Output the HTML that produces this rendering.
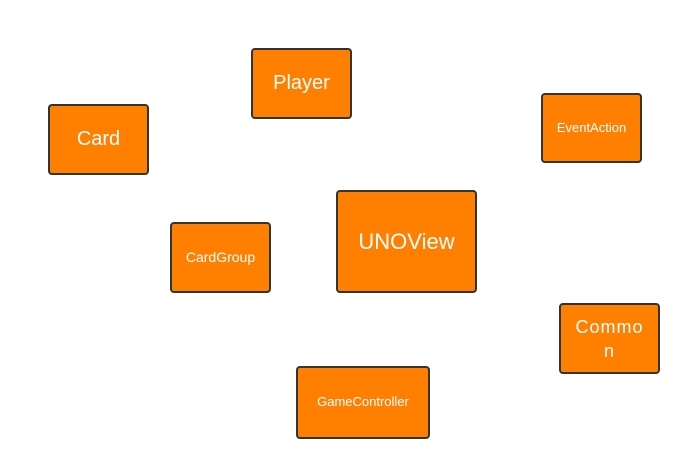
<!DOCTYPE html>
<html><head><style>
body{margin:0;width:691px;height:470px;background:#fff;position:relative;overflow:hidden;font-family:"Liberation Sans",sans-serif}
.b{position:absolute;box-sizing:border-box;background:#ff8000;border:2px solid #333;border-radius:4px;color:#fff;display:flex;align-items:center;justify-content:center;text-align:center;line-height:1.15}
</style></head><body>
<div class="b" style="left:48px;top:104px;width:101px;height:71px;font-size:20px">Card</div>
<div class="b" style="left:251px;top:48px;width:101px;height:71px;font-size:20px">Player</div>
<div class="b" style="left:541px;top:93px;width:101px;height:70px;font-size:13px">EventAction</div>
<div class="b" style="left:170px;top:222px;width:101px;height:71px;font-size:14px">CardGroup</div>
<div class="b" style="left:336px;top:190px;width:141px;height:103px;font-size:22px">UNOView</div>
<div class="b" style="left:559px;top:303px;width:101px;height:71px;font-size:18px;padding:0 10px;letter-spacing:1px;word-break:break-all;line-height:24px">Common</div>
<div class="b" style="left:296px;top:366px;width:134px;height:73px;font-size:13px">GameController</div>
</body></html>
